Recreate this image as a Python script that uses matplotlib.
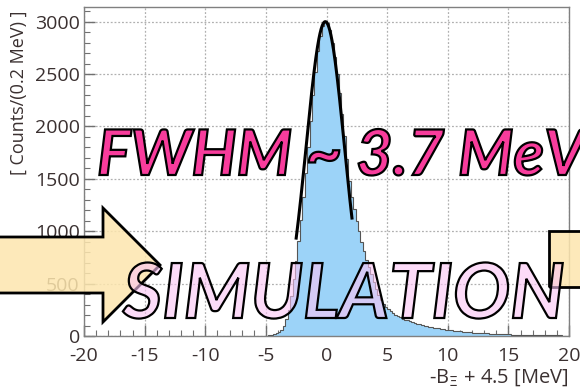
import numpy as np
import matplotlib.pyplot as plt
from matplotlib.patches import Polygon, Rectangle, PathPatch
from matplotlib.textpath import TextPath
from matplotlib.font_manager import FontProperties
from matplotlib.transforms import Affine2D
from matplotlib.ticker import MultipleLocator

plt.rcParams['axes.unicode_minus'] = False

# simulated missing-mass spectrum, 0.2 MeV bins starting at -5.0 MeV
bin_start = -5.0
bin_width = 0.2
counts = [
    3, 5, 9, 15, 25, 40, 62, 100, 160, 250,
    380, 540, 720, 910, 1110, 1330, 1560, 1800, 2050, 2300,
    2520, 2720, 2860, 2960, 3010, 2990, 2920, 2800, 2660, 2500,
    2320, 2120, 1910, 1690, 1480, 1330, 1210, 1100, 1000, 900,
    810, 730, 660, 590, 520, 450, 390, 345, 310, 280,
    255, 235, 218, 203, 190, 178, 167, 157, 148, 140,
    132, 125, 118, 112, 106, 100, 95, 90, 85, 80,
    76, 72, 68, 64, 60, 57, 55, 52, 49, 46,
    43, 41, 39, 37, 35, 33, 31, 29, 28, 26,
    25, 24, 23, 21, 20, 19, 18, 17, 16, 15,
    15, 14, 13, 12, 12, 11, 10, 10, 9, 9,
    8, 8, 7, 7, 7, 6, 6, 6, 5, 5,
    5, 5, 4, 4, 4,
]

# gaussian fit of the core
fit_amp = 3000
fit_mean = -0.1
fwhm = 3.7
fit_range = (-2.5, 2.1)

x_ticks = [-20, -15, -10, -5, 0, 5, 10, 15, 20]
y_ticks = [0, 500, 1000, 1500, 2000, 2500, 3000]

W, H = 580, 390
fig = plt.figure(figsize=(W / 100, H / 100), dpi=100)
ax = fig.add_axes([84 / W, 1 - 336 / H, 485 / W, 329 / H])

edges = bin_start + bin_width * np.arange(len(counts) + 1)
ax.stairs(counts, edges, fill=True, color='#9cd3f8', zorder=2)
ax.stairs(counts, edges, color='#555555', lw=0.8, zorder=3)

sigma = fwhm / (2 * np.sqrt(2 * np.log(2)))
xf = np.linspace(fit_range[0], fit_range[1], 200)
ax.plot(xf, fit_amp * np.exp(-0.5 * ((xf - fit_mean) / sigma) ** 2),
        color='black', lw=2.2, zorder=4)

ax.set_xlim(-20, 20)
ax.set_ylim(0, 3140)
ax.set_xticks(x_ticks)
ax.set_yticks(y_ticks)
ax.xaxis.set_minor_locator(MultipleLocator(1))
ax.yaxis.set_minor_locator(MultipleLocator(100))
ax.tick_params(which='both', direction='in', colors='#707070',
               labelcolor='#3a3030', labelsize=14)
ax.tick_params(which='major', length=8, width=1)
ax.tick_params(which='minor', length=4, width=0.8)
ax.tick_params(axis='x', pad=8)
ax.tick_params(axis='y', pad=3)
for lab in ax.get_xticklabels() + ax.get_yticklabels():
    lab.set_family('Open Sans')
for sp in ax.spines.values():
    sp.set_color('#808080')
    sp.set_linewidth(1)
ax.grid(True, which='major', ls=(0, (1.5, 1.5)), color='#b0b0b0', lw=0.9, zorder=1)
ax.set_axisbelow(True)

ax.set_ylabel('[ Counts/(0.2 MeV) ]', loc='top', fontsize=13,
              family='Open Sans', color='#3a3030')
ax.yaxis.set_label_coords(-0.115, 0.99)
ax.set_xlabel(r'-B$_{\Xi}$ + 4.5 [MeV]', loc='right', fontsize=14.5,
              family='Open Sans', color='#3a3030')
ax.xaxis.set_label_coords(1.0, -0.095)


def px(x, y):
    return (x / W, 1 - y / H)


# block arrows in the margins
yellow = '#fde6ae'
arrow_pts = [(-5, 237), (103, 237), (103, 208), (160, 265),
             (103, 322), (103, 293), (-5, 293)]
fig.patches.append(Polygon([px(*p) for p in arrow_pts], closed=True,
                           transform=fig.transFigure, facecolor=yellow,
                           alpha=0.85, edgecolor='none', zorder=5))
fig.patches.append(Polygon([px(*p) for p in arrow_pts], closed=True,
                           transform=fig.transFigure, facecolor='none',
                           edgecolor='black', lw=2, zorder=6))
x0, y0 = px(549, 287)
fig.patches.append(Rectangle((x0, y0), 60 / W, 56 / H, transform=fig.transFigure,
                             facecolor=yellow, alpha=0.85, edgecolor='none', zorder=5))
fig.patches.append(Rectangle((x0, y0), 60 / W, 56 / H, transform=fig.transFigure,
                             facecolor='none', edgecolor='black', lw=2, zorder=6))

# outlined banner texts, built as paths so fill and edge are independent
banner_font = FontProperties(family='Lato', style='italic', weight='bold')


def banner(text, x, y, size, face, alpha):
    tp = TextPath((0, 0), text, size=size, prop=banner_font)
    tr = Affine2D().translate(x, H - y)
    fill = PathPatch(tp, transform=tr, facecolor=face, alpha=alpha,
                     edgecolor='none', zorder=10)
    edge = PathPatch(tp, transform=tr, facecolor='none', edgecolor='black',
                     lw=1.6, zorder=11)
    fig.add_artist(fill)
    fig.add_artist(edge)


banner('FWHM ~ 3.7 MeV', 97, 175, 63, '#f83c9c', 1.0)
banner('SIMULATION', 123, 318, 76, '#fbc4f4', 0.6)

fig.savefig('out.png', dpi=100)
